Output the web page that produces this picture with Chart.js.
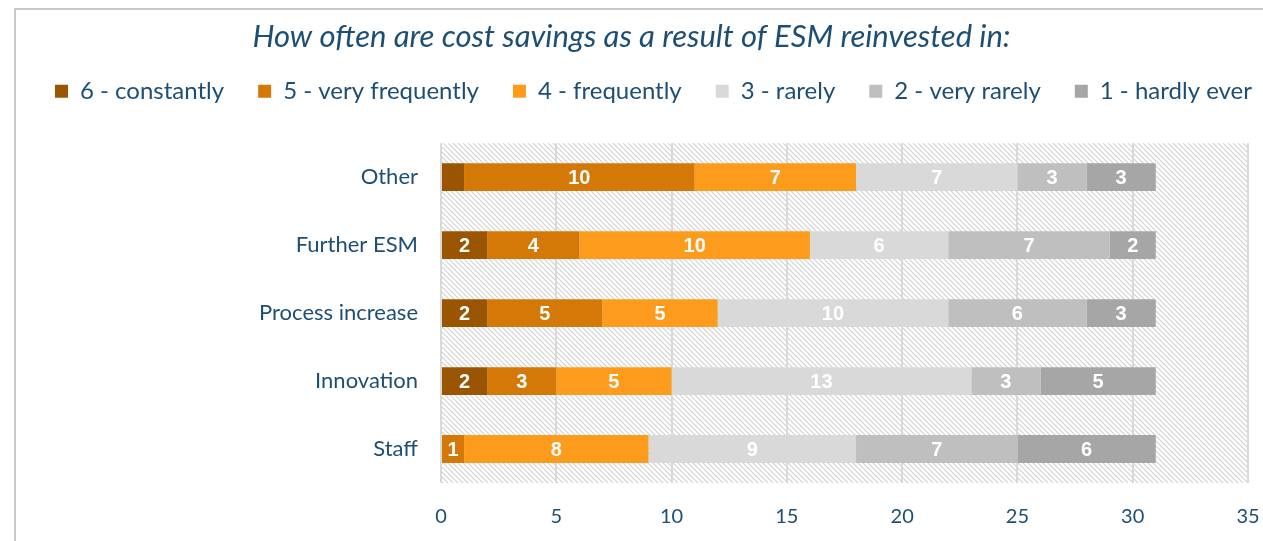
<!DOCTYPE html>
<html lang="en">
<head>
    <meta charset="UTF-8">
    <title>ESM cost savings reinvestment</title>
    <style>
        html, body {
            margin: 0;
            padding: 0;
            background-color: #fff;
            overflow: hidden;
        }

        #wrap {
            width: 1263px;
            height: 541px;
        }

        canvas {
            display: block;
        }
    </style>
</head>
<body>
    <div id="wrap">
        <canvas id="graph"></canvas>
    </div>

    <script src="https://cdn.jsdelivr.net/npm/chart.js"></script>
    <script>
        const categories = ['Other', 'Further ESM', 'Process increase', 'Innovation', 'Staff'];
        const seriesNames = ['6 - constantly', '5 - very frequently', '4 - frequently', '3 - rarely', '2 - very rarely', '1 - hardly ever'];
        const constantly = [1, 2, 2, 2, 0];
        const veryFrequently = [10, 4, 5, 3, 1];
        const frequently = [7, 10, 5, 5, 8];
        const rarely = [7, 6, 10, 13, 9];
        const veryRarely = [3, 7, 6, 3, 7];
        const hardlyEver = [3, 2, 3, 5, 6];
        const xTicks = [0, 5, 10, 15, 20, 25, 30, 35];
        // segments that carry no value label in the original
        const unlabeled = [[0, 0]];

        const seriesColors = ['#9a5503', '#d47807', '#fd9c1c', '#d9d9d9', '#bfbfbf', '#a6a6a6'];
        const textBlue = '#1d4f76';

        // light diagonal hatch for the plot background
        function makeHatch() {
            const p = document.createElement('canvas');
            p.width = 5;
            p.height = 5;
            const c = p.getContext('2d');
            c.fillStyle = '#ffffff';
            c.fillRect(0, 0, 5, 5);
            c.strokeStyle = '#d2d2d2';
            c.lineWidth = 1.2;
            c.beginPath();
            c.moveTo(0, 0); c.lineTo(5, 5);
            c.moveTo(-1, 4); c.lineTo(1, 6);
            c.moveTo(4, -1); c.lineTo(6, 1);
            c.stroke();
            return p;
        }

        const frame = {
            id: 'frame',
            beforeDraw(chart) {
                const ctx = chart.ctx;
                const a = chart.chartArea;
                ctx.save();
                ctx.fillStyle = ctx.createPattern(makeHatch(), 'repeat');
                ctx.fillRect(a.left, a.top, a.right - a.left, a.bottom - a.top);
                ctx.strokeStyle = '#c8c8c8';
                ctx.lineWidth = 2;
                ctx.beginPath();
                ctx.moveTo(15, chart.height);
                ctx.lineTo(15, 9);
                ctx.lineTo(chart.width, 9);
                ctx.stroke();
                ctx.restore();
            }
        };

        // keeps the legend on one row, leaves room below it and nudges it right
        const legendGap = {
            id: 'legendGap',
            beforeInit(chart) {
                const fit = chart.legend.fit;
                chart.legend.fit = function () {
                    this.maxWidth = Math.max(this.maxWidth, 1400);
                    fit.bind(chart.legend)();
                    this.height += 30;
                };
            },
            afterLayout(chart) {
                chart.legend.left += 14;
                chart.legend.right += 30;
            }
        };

        const valueLabels = {
            id: 'valueLabels',
            afterDatasetsDraw(chart) {
                const ctx = chart.ctx;
                ctx.save();
                ctx.font = 'bold 20px "Liberation Sans", Arial, sans-serif';
                ctx.fillStyle = '#ffffff';
                ctx.textAlign = 'center';
                ctx.textBaseline = 'middle';
                chart.data.datasets.forEach(function (ds, i) {
                    const meta = chart.getDatasetMeta(i);
                    meta.data.forEach(function (bar, j) {
                        const v = ds.data[j];
                        if (!v) return;
                        if (unlabeled.some(u => u[0] === i && u[1] === j)) return;
                        const pt = bar.getCenterPoint();
                        ctx.fillText(String(v), pt.x, pt.y + 1);
                    });
                });
                ctx.restore();
            }
        };

        const values = [constantly, veryFrequently, frequently, rarely, veryRarely, hardlyEver];

        const ctx = document.getElementById('graph').getContext('2d');
        new Chart(ctx, {
            type: 'bar',
            data: {
                labels: categories,
                datasets: seriesNames.map(function (name, i) {
                    return {
                        label: name,
                        data: values[i],
                        backgroundColor: seriesColors[i],
                        borderWidth: 0,
                        categoryPercentage: 1,
                        barPercentage: 0.41
                    };
                })
            },
            options: {
                indexAxis: 'y',
                responsive: true,
                maintainAspectRatio: false,
                animation: false,
                layout: {
                    padding: { top: 8, left: 0, right: 0, bottom: 12 }
                },
                plugins: {
                    title: {
                        display: true,
                        text: 'How often are cost savings as a result of ESM reinvested in:',
                        color: textBlue,
                        font: { family: 'Lato', size: 31, style: 'italic', weight: 'normal' },
                        padding: { top: 10, bottom: -10 }
                    },
                    legend: {
                        position: 'top',
                        labels: {
                            color: textBlue,
                            font: { family: 'Lato', size: 24 },
                            boxWidth: 13,
                            boxHeight: 13,
                            padding: 34
                        }
                    },
                    tooltip: { enabled: false }
                },
                scales: {
                    x: {
                        stacked: true,
                        min: 0,
                        max: 35,
                        afterBuildTicks(scale) {
                            scale.ticks = xTicks.map(v => ({ value: v }));
                        },
                        afterFit(scale) {
                            scale.height = 46;
                            scale.paddingLeft = 0;
                            scale.paddingRight = 15;
                        },
                        grid: {
                            color: '#d9d9d9',
                            lineWidth: 2,
                            drawTicks: false
                        },
                        border: { display: false },
                        ticks: {
                            color: textBlue,
                            font: { family: 'Lato', size: 20 },
                            padding: 22
                        }
                    },
                    y: {
                        stacked: true,
                        afterFit(scale) {
                            scale.width = 441;
                        },
                        grid: { display: false, drawTicks: false },
                        border: { display: false },
                        ticks: {
                            color: textBlue,
                            font: { family: 'Lato', size: 22 },
                            padding: 23
                        }
                    }
                }
            },
            plugins: [frame, legendGap, valueLabels]
        });
    </script>
</body>
</html>
